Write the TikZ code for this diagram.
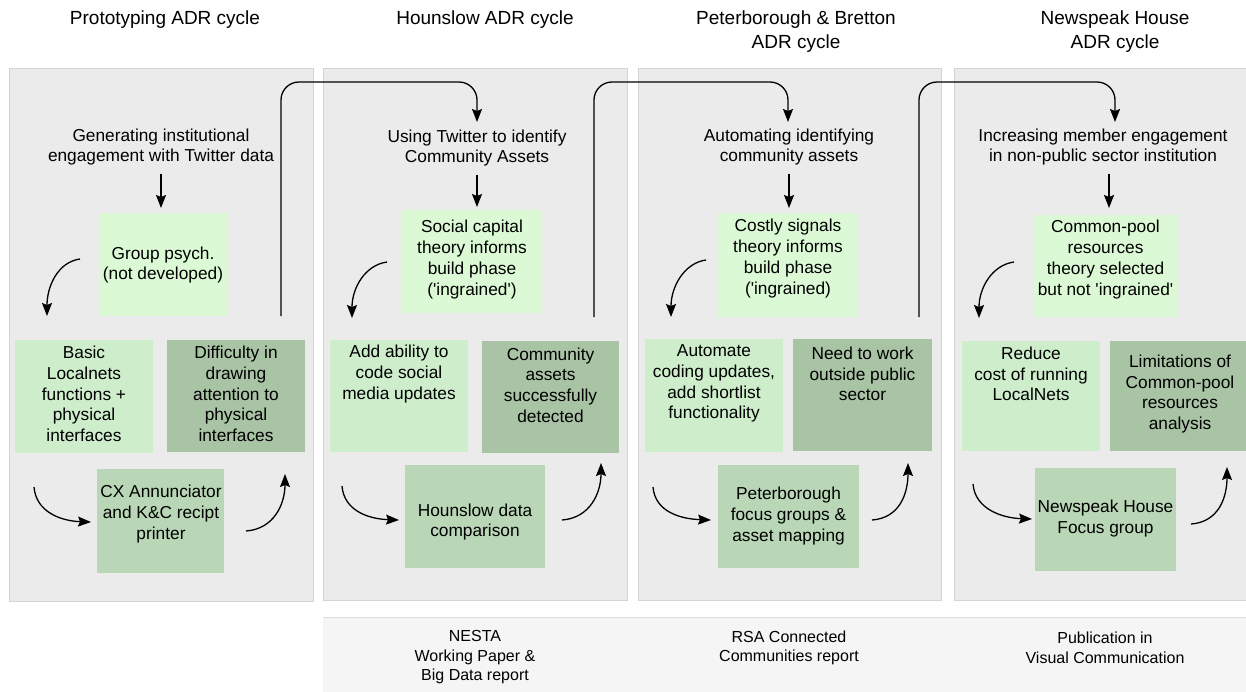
\documentclass[tikz,border=0pt]{standalone}
\usepackage{fontspec}
\setmainfont{Liberation Sans}
\usetikzlibrary{arrows.meta}
\definecolor{panelfill}{HTML}{EBEBEB}
\definecolor{panelline}{HTML}{D4D4D4}
\definecolor{theorygreen}{HTML}{DCF9D6}
\definecolor{buildgreen}{HTML}{CDEDCB}
\definecolor{evalgreen}{HTML}{A9C4A4}
\definecolor{testgreen}{HTML}{B9D7B6}
\definecolor{bandfill}{HTML}{F5F5F5}
\definecolor{bandline}{HTML}{DEDEDE}
\newcommand\gbox[6]{\node[gbx,fill=#2,minimum width={#5-#3},minimum height={#6-#4}] (#1) at ({(#3+#5)/2},{(#4+#6)/2}) {};}
\newcommand\sq{\textquotesingle}
\begin{document}
\begin{tikzpicture}[x=1pt,y=-1pt,
  panel/.style={draw=panelline,fill=panelfill,line width=0.8pt},
  gbx/.style={rectangle,draw=none,inner sep=0pt,outer sep=0pt},
  txt/.style={align=center,inner sep=0pt,font=\fontsize{17.3}{20.75}\selectfont},
  ttl/.style={align=center,inner sep=0pt,font=\fontsize{19}{23.5}\selectfont},
  bnd/.style={align=center,inner sep=0pt,font=\fontsize{16}{19.5}\selectfont},
  arr/.style={line width=1.3pt,-{Stealth[length=13pt,width=10pt,inset=2pt]}},
  link/.style={line width=1.3pt,rounded corners=18pt,-{Stealth[length=13pt,width=10pt,inset=2pt]}}]
\useasboundingbox (0,0) rectangle (1246,691);
\fill[white] (0,0) rectangle (1246,691);
% panels
\draw[panel] (9,68) rectangle (313,601);
\draw[panel] (323,68) rectangle (627,600);
\draw[panel] (638,68) rectangle (941,600);
\draw[panel] (954,68) rectangle (1252,600);
\fill[bandfill] (323,617) rectangle (1252,695);
\draw[bandline,line width=0.8pt] (323,617) -- (1252,617);
% titles
\node[ttl] (h1) at (165,20) {Prototyping ADR cycle};
\node[ttl] (h2) at (485,20) {Hounslow ADR cycle};
\node[ttl] (h3) at (796,31.5) {Peterborough \& Bretton\\ADR cycle};
\node[ttl] (h4) at (1115,31.5) {Newspeak House\\ADR cycle};
% band texts
\node[bnd] (r2) at (475,657.5) {NESTA\\Working Paper \&\\Big Data report};
\node[bnd] (r3) at (789,648) {RSA Connected\\Communities report};
\node[bnd] (r4) at (1105,648) {Publication in\\Visual Communication};

% ---------- Panel 1
\node[txt] (t1) at (161,147) {Generating institutional\\engagement with Twitter data};
\gbox{a1}{theorygreen}{99}{213}{227}{316}
\gbox{a2}{buildgreen}{15}{340}{153}{453}
\gbox{a3}{evalgreen}{167}{340}{305}{452}
\gbox{a4}{testgreen}{97}{469}{224}{573}
\node[txt] (a1T) at (163,265) {Group psych.\\(not developed)};
\node[txt] (a2T) at (84,394) {Basic\\Localnets\\functions +\\physical\\interfaces};
\node[txt] (a3T) at (236,394) {Difficulty in\\drawing\\attention to\\physical\\interfaces};
\node[txt] (a4T) at (161,514) {CX Annunciator\\and K\&C recipt\\printer};
\draw[arr,shorten <=8pt,shorten >=5pt] (t1.south) -- (t1.south |- a1.north);
\coordinate (a1s) at (80,259); \coordinate (a1e) at (47,316);
\draw[arr] (a1s) .. controls +(-22,3) and +(0,-30) .. (a1e);
\coordinate (a2s) at (34,487); \coordinate (a2e) at (91,522);
\draw[arr] (a2s) .. controls +(2,25) and +(-30,-1) .. (a2e);
\coordinate (a3s) at (246,531); \coordinate (a3e) at (285,474);
\draw[arr] (a3s) .. controls +(28,-2) and +(0,30) .. (a3e);
\coordinate (c1s) at (281,316); \coordinate (c1e) at (477,122);
\coordinate (top) at (0,82);
\draw[link] (c1s) -- (c1s |- top) -- (c1e |- top) -- (c1e);

% ---------- Panel 2
\node[txt] (t2) at (477,148) {Using Twitter to identify\\Community Assets};
\gbox{b1}{theorygreen}{402}{210}{542}{313}
\gbox{b2}{buildgreen}{330}{340}{468}{452}
\gbox{b3}{evalgreen}{482}{341}{619}{453}
\gbox{b4}{testgreen}{405}{465}{545}{568}
\node[txt] (b1T) at (472,259.5) {Social capital\\theory informs\\build phase\\(\sq ingrained\sq)};
\node[txt] (b2T) at (399,374) {Add ability to\\code social\\media updates};
\node[txt] (b3T) at (550.5,385) {Community\\assets\\successfully\\detected};
\node[txt] (b4T) at (475,522) {Hounslow data\\comparison};
\draw[arr,shorten <=8pt,shorten >=3pt] (t2.south) -- (t2.south |- b1.north);
\coordinate (b1s) at (387,262); \coordinate (b1e) at (352,318);
\draw[arr] (b1s) .. controls +(-22,3) and +(0,-30) .. (b1e);
\coordinate (b2s) at (342,486); \coordinate (b2e) at (399,520);
\draw[arr] (b2s) .. controls +(2,25) and +(-30,-1) .. (b2e);
\coordinate (b3s) at (562,520); \coordinate (b3e) at (601,463);
\draw[arr] (b3s) .. controls +(28,-2) and +(0,30) .. (b3e);
\coordinate (c2s) at (594,317); \coordinate (c2e) at (788,122);
\draw[link] (c2s) -- (c2s |- top) -- (c2e |- top) -- (c2e);

% ---------- Panel 3
\node[txt] (t3) at (789,147) {Automating identifying\\community assets};
\gbox{d1}{theorygreen}{717}{213}{857}{317}
\gbox{d2}{buildgreen}{645}{339}{783}{452}
\gbox{d3}{evalgreen}{793}{339}{932}{451}
\gbox{d4}{testgreen}{718}{465}{859}{568}
\node[txt] (d1T) at (788,258.5) {Costly signals\\theory informs\\build phase\\(\sq ingrained)};
\node[txt] (d2T) at (714,383.5) {Automate\\coding updates,\\add shortlist\\functionality};
\node[txt] (d3T) at (862.5,374) {Need to work\\outside public\\sector};
\node[txt] (d4T) at (788.5,516) {Peterborough\\focus groups \&\\asset mapping};
\draw[arr,shorten <=8pt,shorten >=5pt] (t3.south) -- (t3.south |- d1.north);
\coordinate (d1s) at (706,260); \coordinate (d1e) at (671,317);
\draw[arr] (d1s) .. controls +(-22,3) and +(0,-30) .. (d1e);
\coordinate (d2s) at (653,487); \coordinate (d2e) at (711,520);
\draw[arr] (d2s) .. controls +(2,25) and +(-30,-1) .. (d2e);
\coordinate (d3s) at (872,520); \coordinate (d3e) at (908,463);
\draw[arr] (d3s) .. controls +(28,-2) and +(0,30) .. (d3e);
\coordinate (c3s) at (919,317); \coordinate (c3e) at (1115,122);
\draw[link] (c3s) -- (c3s |- top) -- (c3e |- top) -- (c3e);

% ---------- Panel 4
\node[txt] (t4) at (1103,147) {Increasing member engagement\\in non-public sector institution};
\gbox{e1}{theorygreen}{1034}{215}{1177}{317}
\gbox{e2}{buildgreen}{962}{341}{1100}{451}
\gbox{e3}{evalgreen}{1110}{341}{1252}{451}
\gbox{e4}{testgreen}{1035}{468}{1176}{571}
\node[txt] (e1T) at (1105.5,259.5) {Common-pool\\resources\\theory selected\\but not \sq ingrained\sq};
\node[txt] (e2T) at (1031,374) {Reduce\\cost of running\\LocalNets};
\node[txt] (e3T) at (1180,394) {Limitations of\\Common-pool\\resources\\analysis};
\node[txt] (e4T) at (1105.5,518.5) {Newspeak House\\Focus group};
\draw[arr,shorten <=8pt,shorten >=7pt] ([xshift=6pt]t4.south) -- ([xshift=6pt]t4.south |- e1.north);
\coordinate (e1s) at (1014,262); \coordinate (e1e) at (979,318);
\draw[arr] (e1s) .. controls +(-22,3) and +(0,-30) .. (e1e);
\coordinate (e2s) at (973,484); \coordinate (e2e) at (1032,519);
\draw[arr] (e2s) .. controls +(2,25) and +(-30,-1) .. (e2e);
\coordinate (e3s) at (1191,524); \coordinate (e3e) at (1227,467);
\draw[arr] (e3s) .. controls +(28,-2) and +(0,30) .. (e3e);
\end{tikzpicture}
\end{document}
